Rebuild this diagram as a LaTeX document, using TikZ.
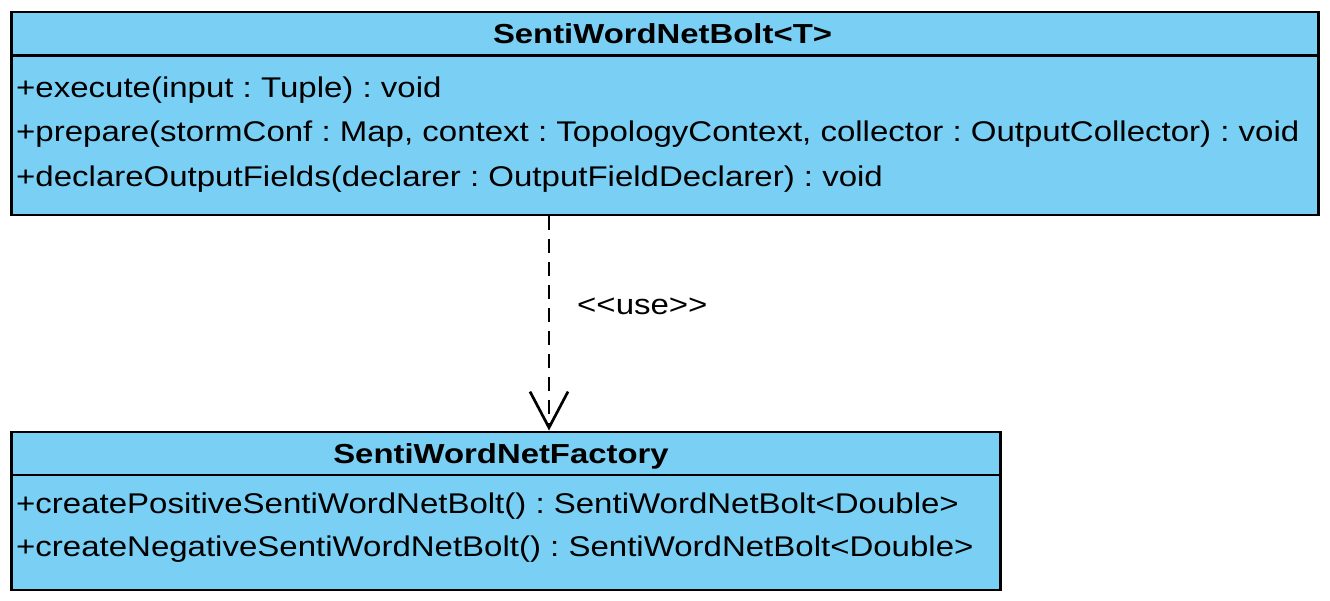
\documentclass[tikz,border=0pt]{standalone}
\usepackage{fontspec}
\setmainfont{Liberation Sans}[Ligatures=TeXOff, FakeStretch=1.158]
\newfontfamily\titlefont{Liberation Sans}[Ligatures=TeXOff, FakeStretch=1.195, BoldFont={Liberation Sans Bold}]
\usetikzlibrary{arrows.meta}
\definecolor{umlblue}{RGB}{122,207,244}
\tikzset{
  classbox/.style={draw=black, line width=2.6pt, fill=umlblue, anchor=north west, inner sep=0pt},
  sepline/.style={draw=black, line width=2.4pt},
  title/.style={font=\titlefont\fontsize{27.5}{30}\selectfont\bfseries, anchor=base, inner sep=0pt},
  member/.style={font=\fontsize{28.5}{30}\selectfont, anchor=base west, inner sep=0pt},
  dep/.style={line width=2.7pt, dash pattern=on 14pt off 9pt, -{Straight Barb[length=36pt,width=38pt,line width=2.7pt]}},
  lbl/.style={font=\fontsize{28.5}{30}\selectfont, anchor=base west, inner sep=0pt}
}
\begin{document}
\frenchspacing
\begin{tikzpicture}[x=1pt,y=-1pt]
\useasboundingbox (0,0) rectangle (1330,600);
% SentiWordNetBolt
\node[classbox, minimum width=1307pt, minimum height=203pt] (bolt) at (10,10.5) {};
\coordinate (bsep) at (10,55.5);
\draw[sepline] (bsep) -- (bsep -| bolt.east);
\node[title] (bolttitle) at (662.5,43) {SentiWordNetBolt<T>};
\node[member] (m1) at (16,97) {+execute(input : Tuple) : void};
\node[member] (m2) at (16,141.5) {+prepare(stormConf : Map, context : TopologyContext, collector : OutputCollector) : void};
\node[member] (m3) at (16,186) {+declareOutputFields(declarer : OutputFieldDeclarer) : void};
% SentiWordNetFactory
\node[classbox, minimum width=989pt, minimum height=158pt] (factory) at (10,430.5) {};
\coordinate (fsep) at (10,475);
\draw[sepline] (fsep) -- (fsep -| factory.east);
\node[title] (factorytitle) at (501,463) {SentiWordNetFactory};
\node[member] (f1) at (16,513) {+createPositiveSentiWordNetBolt() : SentiWordNetBolt<Double>};
\node[member] (f2) at (16,556) {+createNegativeSentiWordNetBolt() : SentiWordNetBolt<Double>};
% dependency
\coordinate (ax) at (549,0);
\draw[dep] (ax |- bolt.south) -- (ax |- factory.north);
\node[lbl] (use) at (577,314) {<<use>>};
\end{tikzpicture}
\end{document}
